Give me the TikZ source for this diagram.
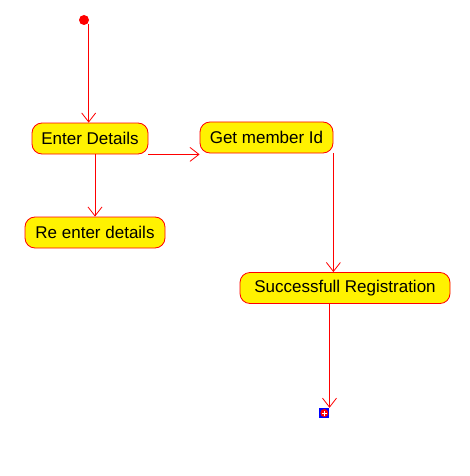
\documentclass[tikz,border=0pt]{standalone}
\usepackage{fontspec}
\setmainfont{Liberation Sans}
\usetikzlibrary{arrows.meta,calc}
\tikzset{
  act/.style={draw=red, fill=yellow, line width=0.8pt, rounded corners=10pt, inner sep=0pt,
    minimum height=31pt, font=\fontsize{17}{19}\selectfont, text=black},
  arr/.style={draw=red, line width=0.8pt, -{Straight Barb[length=9pt,width=14pt,line width=0.8pt]}},
}
\begin{document}
\begin{tikzpicture}[x=1pt,y=-1pt]
\useasboundingbox (0,0) rectangle (470,476);
\node[circle, fill=red, inner sep=0pt, minimum size=10pt] (start) at (84,20) {};
\node[act, minimum width=116pt] (ed) at (90,138.5) {Enter Details};
\node[act, minimum width=133pt] (gm) at (266.5,137.5) {Get member Id};
\node[act, minimum width=140pt] (re) at (95,232.5) {Re enter details};
\node[act, minimum width=210pt] (sr) at (345,288) {Successfull Registration};
\node[rectangle, fill=blue, inner sep=0pt, minimum size=10pt] (end) at (324.3,413) {};
\fill[red] (end.center) circle (4pt);
\draw[white, line width=0.8pt] ($(end.center)+(-2.5,0)$) -- ($(end.center)+(2.5,0)$)
  ($(end.center)+(0,-2.5)$) -- ($(end.center)+(0,2.5)$);
\draw[arr] ([xshift=1pt]start.south east) -- ([xshift=1pt]start.south east |- ed.north);
\draw[arr] (ed.south -| re.north) -- (re.north);
\draw[arr] (ed.south east) -- (ed.south east -| gm.west);
\draw[arr] (gm.south east) -- (gm.south east |- sr.north);
\draw[arr] (sr.south -| end.east) -- (end.north east);
\end{tikzpicture}
\end{document}
